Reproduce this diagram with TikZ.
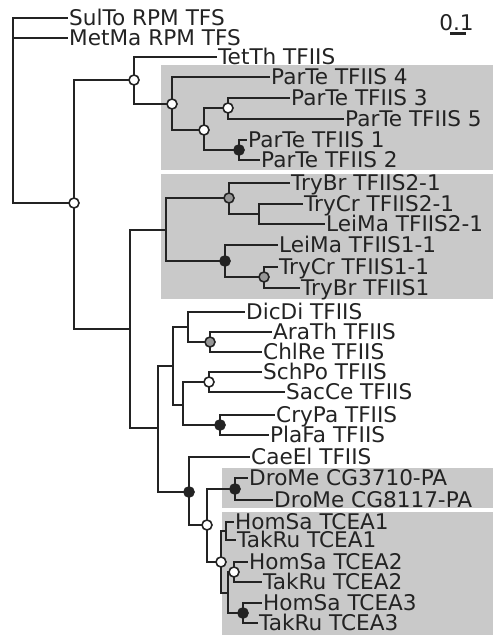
\documentclass[tikz,border=0pt]{standalone}
\usepackage{fontspec}
\setmainfont{DejaVu Sans}
\definecolor{boxgray}{RGB}{201,201,201}
\definecolor{ink}{RGB}{35,35,35}
\definecolor{midgray}{RGB}{150,150,150}
\begin{document}
\begin{tikzpicture}[x=1pt,y=-1pt,
  edge/.style={draw=ink,line width=2.4pt},
  lbl/.style={inner xsep=1pt,inner ysep=0pt,text height=15.7pt,text depth=0pt,font=\fontsize{21.6}{24}\selectfont,text=ink},
  leaf/.style={lbl,anchor=west},
  onode/.style={circle,draw=ink,fill=white,line width=1.6pt,inner sep=0pt,minimum size=10pt},
  bnode/.style={onode,fill=ink},
  gnode/.style={onode,fill=midgray},
  shade/.style={fill=boxgray,draw=none}]
\useasboundingbox (0,0) rectangle (493,638);
% shaded clades
\fill[shade] (161,65) rectangle (493,170);
\fill[shade] (161,174) rectangle (493,299);
\fill[shade] (222,468) rectangle (493,508);
\fill[shade] (222,512) rectangle (493,635);
% leaves
\node[leaf] (sulto)  at (68,18)  {SulTo RPM TFS};
\node[leaf] (metma)  at (68,38)  {MetMa RPM TFS};
\node[leaf] (tetth)  at (217,57) {TetTh TFIIS};
\node[leaf] (parte4) at (270,77) {ParTe TFIIS 4};
\node[leaf] (parte3) at (290,98) {ParTe TFIIS 3};
\node[leaf] (parte5) at (344,119) {ParTe TFIIS 5};
\node[leaf] (parte1) at (247,140) {ParTe TFIIS 1};
\node[leaf] (parte2) at (260,160) {ParTe TFIIS 2};
\node[leaf] (trybrA) at (290,183) {TryBr TFIIS2-1};
\node[leaf] (trycrA) at (303,204) {TryCr TFIIS2-1};
\node[leaf] (leimaA) at (325,224) {LeiMa TFIIS2-1};
\node[leaf] (leimaB) at (278,245) {LeiMa TFIIS1-1};
\node[leaf] (trycrB) at (278,267) {TryCr TFIIS1-1};
\node[leaf] (trybrB) at (300,288) {TryBr TFIIS1};
\node[leaf] (dicdi)  at (245,312) {DicDi TFIIS};
\node[leaf] (arath)  at (272,332) {AraTh TFIIS};
\node[leaf] (chlre)  at (262,352) {ChlRe TFIIS};
\node[leaf] (schpo)  at (262,372) {SchPo TFIIS};
\node[leaf] (sacce)  at (285,392) {SacCe TFIIS};
\node[leaf] (crypa)  at (275,415) {CryPa TFIIS};
\node[leaf] (plafa)  at (269,435) {PlaFa TFIIS};
\node[leaf] (caeel)  at (250,457) {CaeEl TFIIS};
\node[leaf] (dromeA) at (248,478) {DroMe CG3710-PA};
\node[leaf] (dromeB) at (273,500) {DroMe CG8117-PA};
\node[leaf] (homsaA) at (234,522) {HomSa TCEA1};
\node[leaf] (takruA) at (236,540) {TakRu TCEA1};
\node[leaf] (homsaB) at (248,562) {HomSa TCEA2};
\node[leaf] (takruB) at (262,582) {TakRu TCEA2};
\node[leaf] (homsaC) at (262,603) {HomSa TCEA3};
\node[leaf] (takruC) at (258,623) {TakRu TCEA3};
% internal nodes
\coordinate (nR) at (13,110);
\coordinate (nA) at (74,203);
\coordinate (nB) at (134,80);
\coordinate (nD) at (172,104);
\coordinate (nE) at (204,130);
\coordinate (nF) at (228,108);
\coordinate (nG) at (239,150);
\coordinate (nC) at (130,329);
\coordinate (nH) at (166,230);
\coordinate (nJ) at (229,198);
\coordinate (nL) at (259,214);
\coordinate (nK) at (225,261);
\coordinate (nM) at (264,277);
\coordinate (nI) at (158,428);
\coordinate (nN) at (173,366);
\coordinate (nP) at (188,327);
\coordinate (nS) at (210,342);
\coordinate (nQ) at (183,405);
\coordinate (nT) at (209,382);
\coordinate (nU) at (220,425);
\coordinate (nO) at (189,492);
\coordinate (nV) at (207,525);
\coordinate (nW) at (235,489);
\coordinate (nX) at (221,562);
\coordinate (nY) at (226,531);
\coordinate (nZ) at (228,593);
\coordinate (nAA) at (234,572);
\coordinate (nAB) at (243,613);
% edges
\draw[edge] (nR) |- (sulto.west);
\draw[edge] (nR) |- (metma.west);
\draw[edge] (nR) |- (nA);
\draw[edge] (nA) |- (nB);
\draw[edge] (nA) |- (nC);
\draw[edge] (nB) |- (tetth.west);
\draw[edge] (nB) |- (nD);
\draw[edge] (nD) |- (parte4.west);
\draw[edge] (nD) |- (nE);
\draw[edge] (nE) |- (nF);
\draw[edge] (nE) |- (nG);
\draw[edge] (nF) |- (parte3.west);
\draw[edge] (nF) |- (parte5.west);
\draw[edge] (nG) |- (parte1.west);
\draw[edge] (nG) |- (parte2.west);
\draw[edge] (nC) |- (nH);
\draw[edge] (nC) |- (nI);
\draw[edge] (nH) |- (nJ);
\draw[edge] (nH) |- (nK);
\draw[edge] (nJ) |- (trybrA.west);
\draw[edge] (nJ) |- (nL);
\draw[edge] (nL) |- (trycrA.west);
\draw[edge] (nL) |- (leimaA.west);
\draw[edge] (nK) |- (leimaB.west);
\draw[edge] (nK) |- (nM);
\draw[edge] (nM) |- (trycrB.west);
\draw[edge] (nM) |- (trybrB.west);
\draw[edge] (nI) |- (nN);
\draw[edge] (nI) |- (nO);
\draw[edge] (nN) |- (nP);
\draw[edge] (nN) |- (nQ);
\draw[edge] (nP) |- (dicdi.west);
\draw[edge] (nP) |- (nS);
\draw[edge] (nS) |- (arath.west);
\draw[edge] (nS) |- (chlre.west);
\draw[edge] (nQ) |- (nT);
\draw[edge] (nQ) |- (nU);
\draw[edge] (nT) |- (schpo.west);
\draw[edge] (nT) |- (sacce.west);
\draw[edge] (nU) |- (crypa.west);
\draw[edge] (nU) |- (plafa.west);
\draw[edge] (nO) |- (caeel.west);
\draw[edge] (nO) |- (nV);
\draw[edge] (nV) |- (nW);
\draw[edge] (nV) |- (nX);
\draw[edge] (nW) |- (dromeA.west);
\draw[edge] (nW) |- (dromeB.west);
\draw[edge] (nX) |- (nY);
\draw[edge] (nX) |- (nZ);
\draw[edge] (nY) |- (homsaA.west);
\draw[edge] (nY) |- (takruA.west);
\draw[edge] (nZ) |- (nAA);
\draw[edge] (nZ) |- (nAB);
\draw[edge] (nAA) |- (homsaB.west);
\draw[edge] (nAA) |- (takruB.west);
\draw[edge] (nAB) |- (homsaC.west);
\draw[edge] (nAB) |- (takruC.west);
% support markers
\node[onode] (mA) at (nA) {};
\node[onode] (mB) at (nB) {};
\node[onode] (mD) at (nD) {};
\node[onode] (mE) at (nE) {};
\node[onode] (mF) at (nF) {};
\node[bnode] (mG) at (nG) {};
\node[gnode] (mJ) at (nJ) {};
\node[bnode] (mK) at (nK) {};
\node[gnode] (mM) at (nM) {};
\node[gnode] (mS) at (nS) {};
\node[onode] (mT) at (nT) {};
\node[bnode] (mU) at (nU) {};
\node[bnode] (mO) at (nO) {};
\node[onode] (mV) at (nV) {};
\node[bnode] (mW) at (nW) {};
\node[onode] (mX) at (nX) {};
\node[onode] (mAA) at (nAA) {};
\node[bnode] (mAB) at (nAB) {};
% scale bar
\node[lbl] (scalelbl) at (456.5,22.5) {0.1};
\coordinate (sbL) at (450,33.3);
\coordinate (sbR) at (466,33.3);
\draw[edge] (sbL) -- (sbR);
\end{tikzpicture}
\end{document}
